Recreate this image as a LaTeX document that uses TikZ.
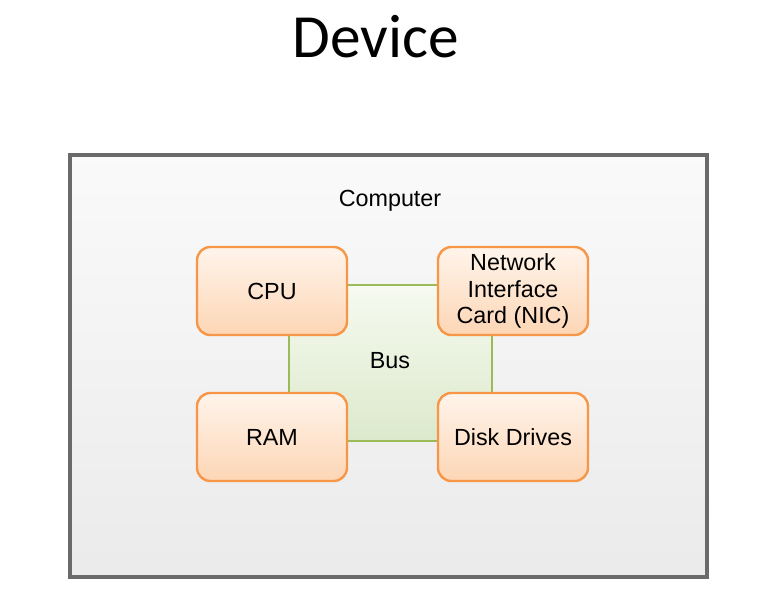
\documentclass[tikz,border=0pt]{standalone}
\usepackage{fontspec}
\setmainfont{Liberation Sans}
\newfontfamily\titlefont{Carlito}
\usetikzlibrary{shadows}
\definecolor{orangeline}{HTML}{F79646}
\definecolor{orangetop}{HTML}{FFF4EB}
\definecolor{orangebot}{HTML}{FDD6B5}
\definecolor{greenline}{HTML}{9BBB59}
\definecolor{greentop}{HTML}{F6FAF0}
\definecolor{greenbot}{HTML}{DCE9CC}
\definecolor{frameline}{HTML}{6A6A6A}
\begin{document}
\begin{tikzpicture}[x=0.75pt,y=-0.75pt,
  partbox/.style={draw=orangeline, line width=1.8pt, rounded corners=10pt,
    top color=orangetop, bottom color=orangebot,
    minimum width=112.5pt, minimum height=66pt, inner sep=0pt,
    align=center, font=\fontsize{17.5}{20}\selectfont},
  busbox/.style={draw=greenline, line width=1.7pt,
    top color=greentop, bottom color=greenbot,
    minimum width=152.25pt, minimum height=117pt, inner sep=0pt},
  framebox/.style={draw=frameline, line width=2.4pt,
    top color=white!98!black, bottom color=white!92!black,
    minimum width=477.75pt, minimum height=316.5pt, inner sep=0pt,
    drop shadow={shadow xshift=1.5pt, shadow yshift=-1.5pt, opacity=0.25}},
  label/.style={font=\fontsize{17.5}{20}\selectfont, inner sep=0pt}]
\useasboundingbox (0,0) rectangle (778,594);
\node[font=\titlefont\fontsize{46}{52}\selectfont, inner sep=0pt] (title) at (376,37) {Device};
\node[framebox] (computer) at (388.5,366) {};
\node[label] (comptext) at (390,201) {Computer};
\node[busbox] (bus) at (390.5,363) {};
\node[label] (bustext) at (390,361) {Bus};
\node[partbox] (cpu) at (272,291) {CPU};
\node[partbox] (nic) at (513,291) {Network\\Interface\\Card (NIC)};
\node[partbox] (ram) at (272,437) {RAM};
\node[partbox] (disk) at (513,437) {Disk Drives};
\end{tikzpicture}
\end{document}
